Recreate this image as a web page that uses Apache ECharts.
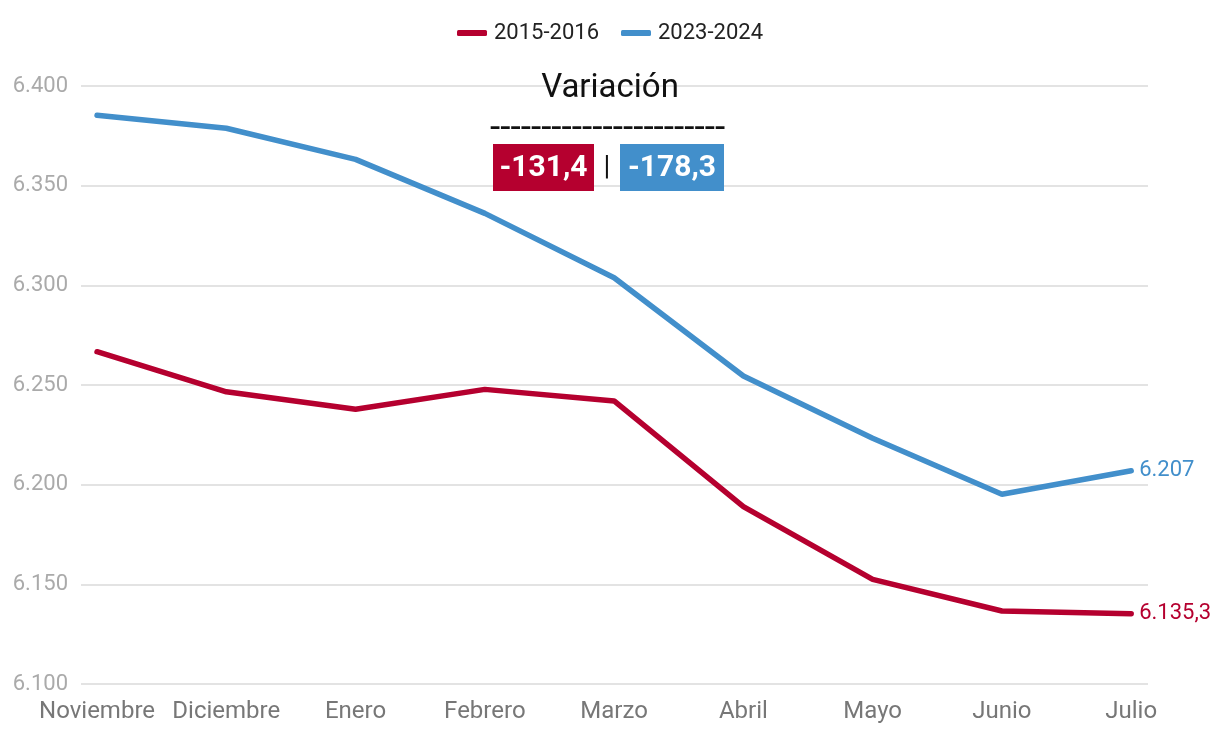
<!DOCTYPE html>
<html>
<head>
<meta charset="utf-8">
<script src="https://cdn.jsdelivr.net/npm/echarts@6/dist/echarts.min.js"></script>
<style>
html,body{margin:0;padding:0;background:#fff;}
#chart{width:1220px;height:738px;}
</style>
</head>
<body>
<div id="chart"></div>
<script>
const categories = ['Noviembre','Diciembre','Enero','Febrero','Marzo','Abril','Mayo','Junio','Julio'];
const series2015 = [6266.7, 6246.6, 6237.8, 6247.8, 6242.0, 6189.0, 6152.5, 6136.6, 6135.3];
const series2023 = [6385.3, 6378.8, 6363.2, 6336.1, 6303.8, 6254.5, 6223.3, 6195.2, 6207.0];
const seriesNames = ['2015-2016', '2023-2024'];
const yTicks = [6100, 6150, 6200, 6250, 6300, 6350, 6400];
const endLabels = ['6.135,3', '6.207'];
const variationTitle = 'Variación';
const variationValues = ['-131,4', '-178,3'];

const RED = '#b5002f';
const BLUE = '#428fcb';
const FONT = 'Roboto, "Noto Sans", sans-serif';

function pairs(arr) {
  return arr.map((v, i) => [i, v]);
}

const chart = echarts.init(document.getElementById('chart'), null, { renderer: 'canvas' });
chart.setOption({
  animation: false,
  textStyle: { fontFamily: FONT },
  legend: {
    top: 17, left: 'center',
    itemWidth: 30, itemHeight: 6, itemGap: 22,
    icon: 'roundRect',
    textStyle: { fontSize: 22, color: '#222', fontFamily: FONT, padding: [0, 0, 0, 2] },
    data: seriesNames
  },
  grid: { left: 81, right: 72, top: 86, bottom: 54, containLabel: false },
  xAxis: {
    type: 'value',
    min: -0.124, max: 8.13,
    axisLine: { show: false },
    axisTick: { show: false },
    splitLine: { show: false },
    axisLabel: {
      customValues: categories.map((c, i) => i),
      formatter: v => categories[Math.round(v)],
      fontSize: 24, color: '#777', margin: 16, fontFamily: FONT
    }
  },
  yAxis: {
    type: 'value',
    min: yTicks[0], max: yTicks[yTicks.length - 1], interval: 50,
    axisLine: { show: false },
    axisTick: { show: false },
    splitLine: { lineStyle: { color: '#e3e3e3', width: 2 } },
    axisLabel: {
      fontSize: 22, color: '#aaa', margin: 13, fontFamily: FONT,
      formatter: v => (v / 1000).toFixed(3)
    }
  },
  series: [
    {
      name: seriesNames[0], type: 'line', showSymbol: false, symbol: 'none',
      data: pairs(series2015),
      lineStyle: { color: RED, width: 5.5, cap: 'round' }, itemStyle: { color: RED },
      endLabel: { show: true, formatter: endLabels[0], color: RED, fontSize: 22, distance: 8, fontFamily: FONT }
    },
    {
      name: seriesNames[1], type: 'line', showSymbol: false, symbol: 'none',
      data: pairs(series2023),
      lineStyle: { color: BLUE, width: 5.5, cap: 'round' }, itemStyle: { color: BLUE },
      endLabel: { show: true, formatter: endLabels[1], color: BLUE, fontSize: 22, distance: 8, fontFamily: FONT }
    }
  ],
  graphic: [
    { type: 'text', left: 'center', top: 72, z: 100,
      style: { text: variationTitle, fontSize: 33, fill: '#111', fontFamily: FONT } },
    { type: 'text', x: 490, y: 111, z: 100,
      style: { text: '-----------------------', fontSize: 37, fill: '#111', fontFamily: FONT } },
    { type: 'rect', z: 100, shape: { x: 493, y: 144, width: 101, height: 47 }, style: { fill: RED } },
    { type: 'text', x: 543.5, y: 168, z: 101,
      style: { text: variationValues[0], fontSize: 30, fontWeight: 'bold', fill: '#fff',
        fontFamily: FONT, align: 'center', verticalAlign: 'middle' } },
    { type: 'text', x: 607, y: 168, z: 100,
      style: { text: '|', fontSize: 28, fill: '#111', fontFamily: FONT, align: 'center', verticalAlign: 'middle' } },
    { type: 'rect', z: 100, shape: { x: 620, y: 144, width: 104, height: 47 }, style: { fill: BLUE } },
    { type: 'text', x: 672, y: 168, z: 101,
      style: { text: variationValues[1], fontSize: 30, fontWeight: 'bold', fill: '#fff',
        fontFamily: FONT, align: 'center', verticalAlign: 'middle' } }
  ]
});
</script>
</body>
</html>
